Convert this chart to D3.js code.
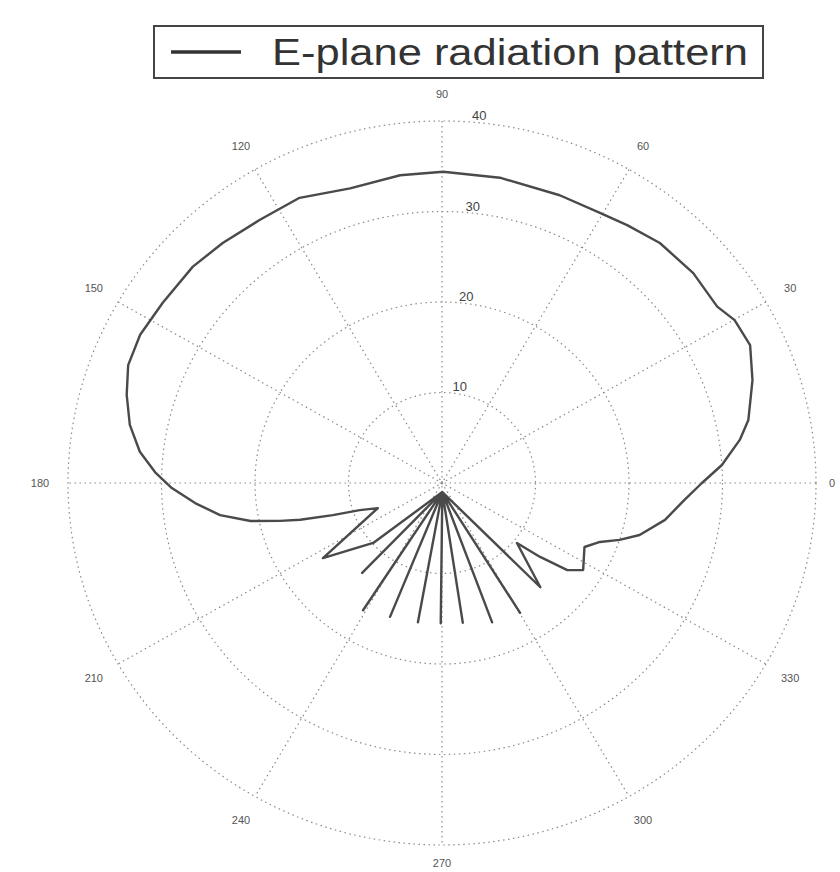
<!DOCTYPE html>
<html>
<head>
<meta charset="utf-8">
<script src="https://cdn.jsdelivr.net/npm/d3@7"></script>
<style>
  html, body { margin: 0; padding: 0; background: #fff; }
  svg { display: block; }
</style>
</head>
<body>
<svg id="chart" width="840" height="872"></svg>
<script>
// Measured E-plane pattern: angle in degrees (counter-clockwise from 0°) and radial value
const angleDeg = [
  0, 3.8, 8.5, 12.0, 18.9, 24.8, 29.9, 33.5, 40.8, 48.7, 55.2, 60.5, 68.4, 79.6,
  89.8, 97.5, 106.8, 115.8, 123.8, 131.5, 138.1, 146.3, 153.1, 158.8, 163.9, 169.1,
  173.9, 177.8, 181.1, 184.8, 188.5, 191.6, 193.6, 195.0, 196.9, 198.8, 202.0,
  213.1, 216.9, 222.0,
  272, 229.3, 272, 239.0, 272, 249.4, 272, 260.5, 272, 269.5, 272, 278.2, 272,
  289.2, 272, 300.2, 272,
  312.4, 320.4, 322.1, 324.3, 327.5, 335.1, 338.9, 341.7, 344.8, 350.3, 355.9, 360
];
const gainVals = [
  27.8, 30.0, 32.2, 33.5, 35.1, 36.3, 36.1, 35.3, 35.5, 35.3, 34.7, 34.3, 34.2, 34.3,
  34.4, 34.3, 34.0, 35.0, 35.0, 35.4, 35.8, 35.9, 36.2, 36.0, 35.1, 34.0,
  32.5, 30.7, 28.9, 26.5, 24.0, 20.9, 17.8, 15.7, 12.2, 9.3, 7.4,
  15.2, 12.3, 9.9,
  1.0, 13.1, 1.0, 16.4, 1.0, 15.8, 1.0, 15.6, 1.0, 15.5, 1.0, 15.6, 1.0,
  16.3, 1.0, 16.6, 1.0,
  15.6, 10.4, 13.3, 16.5, 17.9, 16.8, 18.1, 20.0, 21.9, 24.2, 26.0, 27.8
];

// Grid: spokes every 30°, rings every 10 units
const spokeAngles = [0, 30, 60, 90, 120, 150, 180, 210, 240, 270, 300, 330];
const spokeLabels = ["0", "30", "60", "90", "120", "150", "180", "210", "240", "270", "300", "330"];
const ringValues = [10, 20, 30, 40];
const ringLabels = ["10", "20", "30", "40"];
const legendLabel = "E-plane radiation pattern";

const rMax = 40;
const cx = 442, cy = 483, Rx = 374, Ry = 362;
const W = 840, H = 872;

const svg = d3.select("#chart");

// Cartesian scales in data units; the plot is slightly wider than tall
const xs = d3.scaleLinear().domain([-rMax, rMax]).range([cx - Rx, cx + Rx]);
const ys = d3.scaleLinear().domain([-rMax, rMax]).range([cy + Ry, cy - Ry]);
const rad = d => d * Math.PI / 180;
const px = (a, r) => xs(r * Math.cos(rad(a)));
const py = (a, r) => ys(r * Math.sin(rad(a)));

const gridColor = "#8a8a8a";
const grid = svg.append("g")
  .attr("fill", "none")
  .attr("stroke", gridColor)
  .attr("stroke-width", 1.2)
  .attr("stroke-dasharray", "1.5,3.5");

// Rings
grid.selectAll("ellipse.ring")
  .data(ringValues)
  .join("ellipse")
  .attr("class", "ring")
  .attr("cx", xs(0))
  .attr("cy", ys(0))
  .attr("rx", d => xs(d) - xs(0))
  .attr("ry", d => ys(0) - ys(d));

// Spokes
grid.selectAll("line.spoke")
  .data(spokeAngles.filter(a => a < 180))
  .join("line")
  .attr("class", "spoke")
  .attr("x1", a => px(a, rMax))
  .attr("y1", a => py(a, rMax))
  .attr("x2", a => px(a + 180, rMax))
  .attr("y2", a => py(a + 180, rMax));

// Angle labels, kept inside the drawing area
svg.append("g")
  .attr("font-family", "Liberation Sans, Arial, sans-serif")
  .attr("font-size", 11)
  .attr("fill", "#555")
  .attr("text-anchor", "middle")
  .attr("dominant-baseline", "central")
  .selectAll("text")
  .data(spokeAngles)
  .join("text")
  .attr("x", a => Math.max(16, Math.min(W - 8, px(a, rMax * 1.075))))
  .attr("y", a => Math.max(10, Math.min(H - 9, py(a, rMax * 1.075))))
  .text((a, i) => spokeLabels[i]);

// Ring labels
svg.append("g")
  .attr("font-family", "Liberation Sans, Arial, sans-serif")
  .attr("font-size", 13)
  .attr("fill", "#444")
  .attr("text-anchor", "start")
  .attr("dominant-baseline", "central")
  .selectAll("text")
  .data(ringValues)
  .join("text")
  .attr("x", d => px(86, d) + 4)
  .attr("y", d => py(86, d) - 6)
  .text((d, i) => ringLabels[i]);

// Pattern trace
const pts = angleDeg.map((a, i) => [a, gainVals[i]]);
const line = d3.line()
  .x(d => px(d[0], d[1]))
  .y(d => py(d[0], d[1]))
  .curve(d3.curveLinear);

svg.append("path")
  .datum(pts)
  .attr("d", line)
  .attr("fill", "none")
  .attr("stroke", "#4a4a4a")
  .attr("stroke-width", 2.4)
  .attr("stroke-linejoin", "round");

// Legend
const lg = svg.append("g");
lg.append("rect")
  .attr("x", 154).attr("y", 26)
  .attr("width", 609).attr("height", 52)
  .attr("fill", "#fff")
  .attr("stroke", "#444")
  .attr("stroke-width", 2);
lg.append("line")
  .attr("x1", 171).attr("x2", 241)
  .attr("y1", 52).attr("y2", 52)
  .attr("stroke", "#333")
  .attr("stroke-width", 3.5);
lg.append("text")
  .attr("x", 272).attr("y", 65)
  .attr("font-family", "Liberation Sans, Arial, sans-serif")
  .attr("font-size", 37)
  .attr("fill", "#333")
  .attr("textLength", 476)
  .attr("lengthAdjust", "spacingAndGlyphs")
  .text(legendLabel);
</script>
</body>
</html>
